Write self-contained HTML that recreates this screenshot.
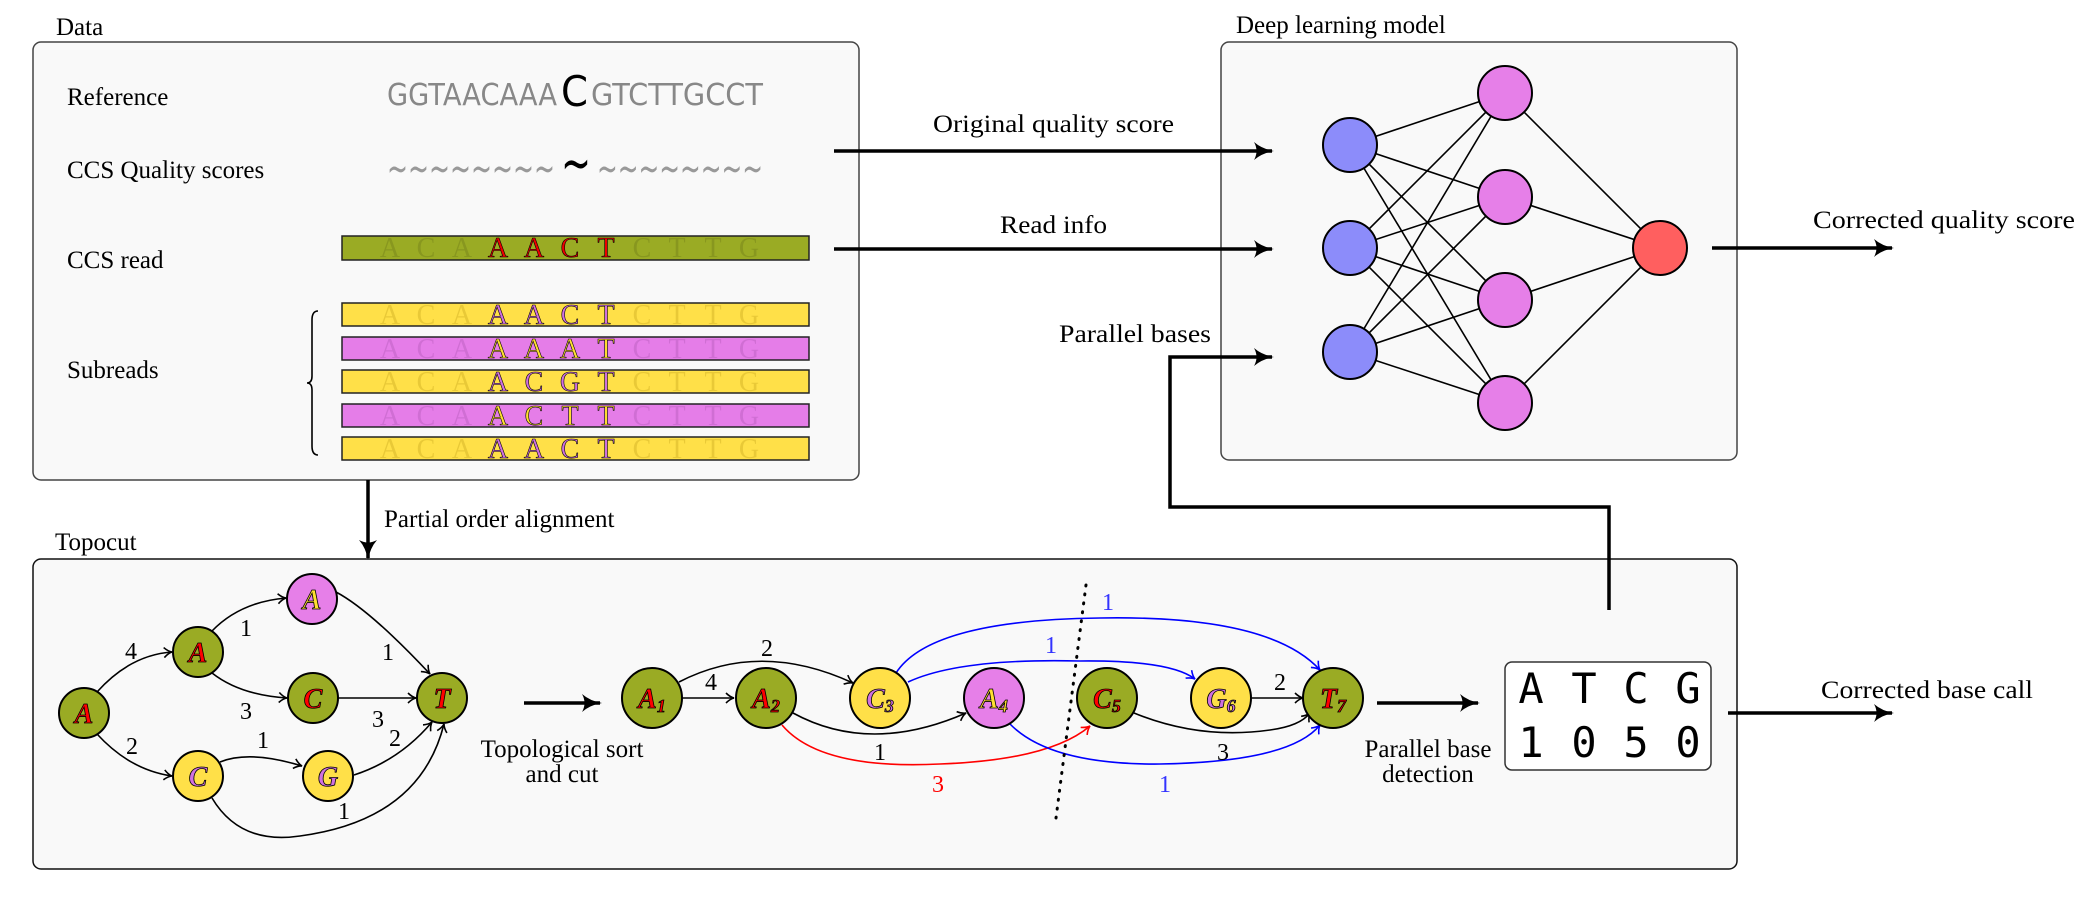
<!DOCTYPE html>
<html><head><meta charset="utf-8"><style>html,body{margin:0;padding:0;background:#fff}svg{display:block}</style></head>
<body>
<svg width="2089" height="900" viewBox="0 0 2089 900" xmlns="http://www.w3.org/2000/svg" font-family="Liberation Serif, serif">
<defs>
<marker id="bigS" markerWidth="20" markerHeight="18" refX="18" refY="9" orient="auto" markerUnits="userSpaceOnUse" viewBox="0 0 20 18">
<path d="M0,0 Q8,7 20,9 Q8,11 0,18 Q5,9 0,0 Z" fill="#000"/></marker>
<marker id="ak" markerWidth="12" markerHeight="12" refX="10" refY="6" orient="auto" markerUnits="userSpaceOnUse" viewBox="0 0 12 12">
<path d="M2,1 Q6,5 10,6 Q6,7 2,11" fill="none" stroke="#000" stroke-width="1.6"/></marker>
<marker id="ab" markerWidth="12" markerHeight="12" refX="10" refY="6" orient="auto" markerUnits="userSpaceOnUse" viewBox="0 0 12 12">
<path d="M2,1 Q6,5 10,6 Q6,7 2,11" fill="none" stroke="#00f" stroke-width="1.6"/></marker>
<marker id="ar" markerWidth="12" markerHeight="12" refX="10" refY="6" orient="auto" markerUnits="userSpaceOnUse" viewBox="0 0 12 12">
<path d="M2,1 Q6,5 10,6 Q6,7 2,11" fill="none" stroke="#f00" stroke-width="1.6"/></marker>
</defs>

<rect x="33" y="42" width="826" height="438" rx="8" fill="#f9f9f9" stroke="#444" stroke-width="1.5"/>
<rect x="1221" y="42" width="516" height="418" rx="8" fill="#f9f9f9" stroke="#444" stroke-width="1.5"/>
<rect x="33" y="559" width="1704" height="310" rx="8" fill="#f9f9f9" stroke="#111" stroke-width="1.5"/>

<g font-size="25" fill="#000">
<text x="56" y="35">Data</text>
<text x="1236" y="33">Deep learning model</text>
<text x="55" y="550">Topocut</text>
<text x="67" y="105">Reference</text>
<text x="67" y="178">CCS Quality scores</text>
<text x="67" y="268">CCS read</text>
<text x="67" y="378">Subreads</text>
<text x="384" y="527">Partial order alignment</text>
<text x="933" y="132" textLength="241" lengthAdjust="spacingAndGlyphs">Original quality score</text>
<text x="1000" y="233" textLength="107" lengthAdjust="spacingAndGlyphs">Read info</text>
<text x="1059" y="342" textLength="152" lengthAdjust="spacingAndGlyphs">Parallel bases</text>
<text x="1813" y="228" textLength="262" lengthAdjust="spacingAndGlyphs">Corrected quality score</text>
<text x="1821" y="698" textLength="212" lengthAdjust="spacingAndGlyphs">Corrected base call</text>
<text x="562" y="757" text-anchor="middle">Topological sort</text>
<text x="562" y="782" text-anchor="middle">and cut</text>
<text x="1428" y="757" text-anchor="middle">Parallel base</text>
<text x="1428" y="782" text-anchor="middle">detection</text>
</g>

<g font-family="DejaVu Sans, sans-serif">
<text x="387" y="105" font-size="30" fill="#888" textLength="170" lengthAdjust="spacingAndGlyphs">GGTAACAAA</text>
<text x="561" y="106" font-size="42" fill="#000" textLength="27" lengthAdjust="spacingAndGlyphs">C</text>
<text x="591" y="105" font-size="30" fill="#888" textLength="172" lengthAdjust="spacingAndGlyphs">GTCTTGCCT</text>
<text x="387" y="182" font-size="40" fill="#999" textLength="168" lengthAdjust="spacingAndGlyphs">∼∼∼∼∼∼∼∼</text>
<text x="561" y="182" font-size="56" fill="#000" textLength="30" lengthAdjust="spacingAndGlyphs">∼</text>
<text x="597" y="182" font-size="40" fill="#999" textLength="166" lengthAdjust="spacingAndGlyphs">∼∼∼∼∼∼∼∼</text>
</g>

<g stroke="#222" stroke-width="1.5">
<rect x="342" y="236" width="467" height="24" fill="#9aab24"/>
<rect x="342" y="303" width="467" height="23" fill="#ffe048"/>
<rect x="342" y="337" width="467" height="23" fill="#e57de8"/>
<rect x="342" y="370" width="467" height="23" fill="#ffe048"/>
<rect x="342" y="404" width="467" height="23" fill="#e57de8"/>
<rect x="342" y="437" width="467" height="23" fill="#ffe048"/>
</g>
<g font-size="28" text-anchor="middle" font-family="Liberation Serif, serif">
<g fill="#7d8a1c" opacity="0.6"><text x="390" y="257">A</text><text x="426" y="257">C</text><text x="462" y="257">A</text><text x="642" y="257">C</text><text x="677" y="257">T</text><text x="713" y="257">T</text><text x="749" y="257">G</text></g>
<g fill="#ee0000" stroke="#000" stroke-width="0.6"><text x="498" y="257">A</text><text x="534" y="257">A</text><text x="570" y="257">C</text><text x="606" y="257">T</text></g>
<g fill="#e0c030" opacity="0.7"><text x="390" y="324">A</text><text x="426" y="324">C</text><text x="462" y="324">A</text><text x="642" y="324">C</text><text x="677" y="324">T</text><text x="713" y="324">T</text><text x="749" y="324">G</text>
<text x="390" y="391">A</text><text x="426" y="391">C</text><text x="462" y="391">A</text><text x="642" y="391">C</text><text x="677" y="391">T</text><text x="713" y="391">T</text><text x="749" y="391">G</text>
<text x="390" y="458">A</text><text x="426" y="458">C</text><text x="462" y="458">A</text><text x="642" y="458">C</text><text x="677" y="458">T</text><text x="713" y="458">T</text><text x="749" y="458">G</text></g>
<g fill="#c868cc" opacity="0.7"><text x="390" y="358">A</text><text x="426" y="358">C</text><text x="462" y="358">A</text><text x="642" y="358">C</text><text x="677" y="358">T</text><text x="713" y="358">T</text><text x="749" y="358">G</text>
<text x="390" y="425">A</text><text x="426" y="425">C</text><text x="462" y="425">A</text><text x="642" y="425">C</text><text x="677" y="425">T</text><text x="713" y="425">T</text><text x="749" y="425">G</text></g>
<g fill="#d070e0" stroke="#000" stroke-width="0.6">
<text x="498" y="324">A</text><text x="534" y="324">A</text><text x="570" y="324">C</text><text x="606" y="324">T</text>
<text x="498" y="391">A</text><text x="534" y="391">C</text><text x="570" y="391">G</text><text x="606" y="391">T</text>
<text x="498" y="458">A</text><text x="534" y="458">A</text><text x="570" y="458">C</text><text x="606" y="458">T</text></g>
<g fill="#ffe030" stroke="#000" stroke-width="0.6">
<text x="498" y="358">A</text><text x="534" y="358">A</text><text x="570" y="358">A</text><text x="606" y="358">T</text>
<text x="498" y="425">A</text><text x="534" y="425">C</text><text x="570" y="425">T</text><text x="606" y="425">T</text></g>
</g>
<path d="M318,311 Q312,311 312,320 L312,376 Q312,383 307,383 Q312,383 312,390 L312,446 Q312,455 318,455" fill="none" stroke="#000" stroke-width="1.6"/>

<g stroke="#000" stroke-width="3.5" fill="none" marker-end="url(#bigS)">
<line x1="834" y1="151" x2="1272" y2="151"/>
<line x1="834" y1="249" x2="1272" y2="249"/>
<path d="M1609,610 L1609,507 L1170,507 L1170,357 L1272,357"/>
<line x1="1712" y1="248" x2="1892" y2="248"/>
<line x1="368" y1="480" x2="368" y2="558"/>
<line x1="524" y1="703" x2="600" y2="703"/>
<line x1="1377" y1="703" x2="1478" y2="703"/>
<line x1="1728" y1="713" x2="1892" y2="713"/>
</g>

<g stroke="#000" stroke-width="1.6">
<line x1="1350" y1="145" x2="1505" y2="93"/><line x1="1350" y1="145" x2="1505" y2="197"/><line x1="1350" y1="145" x2="1505" y2="300"/><line x1="1350" y1="145" x2="1505" y2="403"/>
<line x1="1350" y1="248" x2="1505" y2="93"/><line x1="1350" y1="248" x2="1505" y2="197"/><line x1="1350" y1="248" x2="1505" y2="300"/><line x1="1350" y1="248" x2="1505" y2="403"/>
<line x1="1350" y1="352" x2="1505" y2="93"/><line x1="1350" y1="352" x2="1505" y2="197"/><line x1="1350" y1="352" x2="1505" y2="300"/><line x1="1350" y1="352" x2="1505" y2="403"/>
<line x1="1505" y1="93" x2="1660" y2="248"/><line x1="1505" y1="197" x2="1660" y2="248"/><line x1="1505" y1="300" x2="1660" y2="248"/><line x1="1505" y1="403" x2="1660" y2="248"/>
</g>
<g stroke="#000" stroke-width="2">
<circle cx="1350" cy="145" r="27" fill="#8c8cfa"/><circle cx="1350" cy="248" r="27" fill="#8c8cfa"/><circle cx="1350" cy="352" r="27" fill="#8c8cfa"/>
<circle cx="1505" cy="93" r="27" fill="#e67fe8"/><circle cx="1505" cy="197" r="27" fill="#e67fe8"/><circle cx="1505" cy="300" r="27" fill="#e67fe8"/><circle cx="1505" cy="403" r="27" fill="#e67fe8"/>
<circle cx="1660" cy="248" r="27" fill="#ff5f5f"/>
</g>

<g fill="none" stroke="#000" stroke-width="1.6" marker-end="url(#ak)">
<path d="M97,692 Q130,655 172,652"/>
<path d="M212,631 Q240,602 286,598"/>
<path d="M336,592 Q370,610 430,674"/>
<path d="M212,673 Q240,695 287,698"/>
<line x1="338" y1="698" x2="416" y2="698"/>
<path d="M97,734 Q130,770 172,776"/>
<path d="M220,762 Q250,750 302,766"/>
<path d="M354,775 Q400,760 432,722"/>
<path d="M212,798 Q240,845 300,836 Q420,820 444,724"/>
</g>
<g font-size="24" text-anchor="middle">
<text x="131" y="659">4</text><text x="246" y="636">1</text><text x="388" y="660">1</text>
<text x="246" y="719">3</text><text x="378" y="727">3</text><text x="132" y="754">2</text>
<text x="263" y="748">1</text><text x="395" y="746">2</text><text x="344" y="819">1</text>
</g>

<g fill="none" stroke-width="1.6">
<line x1="682" y1="698" x2="734" y2="698" stroke="#000" marker-end="url(#ak)"/>
<path d="M679,682 Q760,640 853,683" stroke="#000" marker-end="url(#ak)"/>
<path d="M793,713 Q870,755 966,713" stroke="#000" marker-end="url(#ak)"/>
<path d="M782,725 Q820,770 940,764 Q1050,760 1090,726" stroke="#f00" marker-end="url(#ar)"/>
<path d="M896,673 Q930,620 1100,618 Q1270,615 1320,670" stroke="#00f" marker-end="url(#ab)"/>
<path d="M908,682 Q960,658 1080,661 Q1170,660 1195,679" stroke="#00f" marker-end="url(#ab)"/>
<path d="M1010,724 Q1050,765 1160,764 Q1290,762 1320,725" stroke="#00f" marker-end="url(#ab)"/>
<path d="M1134,713 Q1200,740 1270,730 Q1300,726 1310,713" stroke="#000" marker-end="url(#ak)"/>
<line x1="1252" y1="698" x2="1303" y2="698" stroke="#000" marker-end="url(#ak)"/>
</g>
<line x1="1086" y1="585" x2="1056" y2="818" stroke="#000" stroke-width="3" stroke-dasharray="1,8" stroke-linecap="round"/>
<g font-size="24" text-anchor="middle">
<text x="767" y="656">2</text><text x="711" y="690">4</text><text x="880" y="760">1</text>
<text x="938" y="792" fill="#f00">3</text><text x="1108" y="610" fill="#33f">1</text><text x="1051" y="653" fill="#33f">1</text>
<text x="1165" y="792" fill="#33f">1</text><text x="1223" y="760">3</text><text x="1280" y="690">2</text>
</g>

<g stroke="#000" stroke-width="2">
<circle cx="84" cy="713" r="25" fill="#9aab24"/><circle cx="198" cy="652" r="25" fill="#9aab24"/>
<circle cx="312" cy="599" r="25" fill="#e67fe8"/><circle cx="313" cy="698" r="25" fill="#9aab24"/>
<circle cx="442" cy="698" r="25" fill="#9aab24"/><circle cx="198" cy="776" r="25" fill="#ffe048"/>
<circle cx="328" cy="776" r="25" fill="#ffe048"/>
<circle cx="652" cy="698" r="30" fill="#9aab24"/><circle cx="766" cy="698" r="30" fill="#9aab24"/>
<circle cx="880" cy="698" r="30" fill="#ffe048"/><circle cx="994" cy="698" r="30" fill="#e67fe8"/>
<circle cx="1107" cy="698" r="30" fill="#9aab24"/><circle cx="1221" cy="698" r="30" fill="#ffe048"/>
<circle cx="1333" cy="698" r="30" fill="#9aab24"/>
</g>
<g font-size="28" font-style="italic" font-weight="bold" text-anchor="middle" stroke="#000" stroke-width="0.8">
<text x="84" y="723" fill="#f00">A</text><text x="198" y="662" fill="#f00">A</text>
<text x="312" y="609" fill="#ffe030">A</text><text x="313" y="708" fill="#f00">C</text>
<text x="442" y="708" fill="#f00">T</text><text x="198" y="786" fill="#d070e0">C</text>
<text x="328" y="786" fill="#d070e0">G</text>
<text x="652" y="708" fill="#f00">A<tspan font-size="18" dy="4">1</tspan></text>
<text x="766" y="708" fill="#f00">A<tspan font-size="18" dy="4">2</tspan></text>
<text x="880" y="708" fill="#d070e0">C<tspan font-size="18" dy="4">3</tspan></text>
<text x="994" y="708" fill="#ffe030">A<tspan font-size="18" dy="4">4</tspan></text>
<text x="1107" y="708" fill="#f00">C<tspan font-size="18" dy="4">5</tspan></text>
<text x="1221" y="708" fill="#d070e0">G<tspan font-size="18" dy="4">6</tspan></text>
<text x="1333" y="708" fill="#f00">T<tspan font-size="18" dy="4">7</tspan></text>
</g>

<rect x="1505" y="662" width="206" height="108" rx="7" fill="#fff" stroke="#333" stroke-width="1.5"/>
<g font-family="DejaVu Sans Mono, monospace" font-size="42" text-anchor="middle">
<text x="1531" y="703">A</text><text x="1584" y="703">T</text><text x="1636" y="703">C</text><text x="1688" y="703">G</text>
<text x="1531" y="757">1</text><text x="1584" y="757">0</text><text x="1636" y="757">5</text><text x="1688" y="757">0</text>
</g>
</svg>
</body></html>
